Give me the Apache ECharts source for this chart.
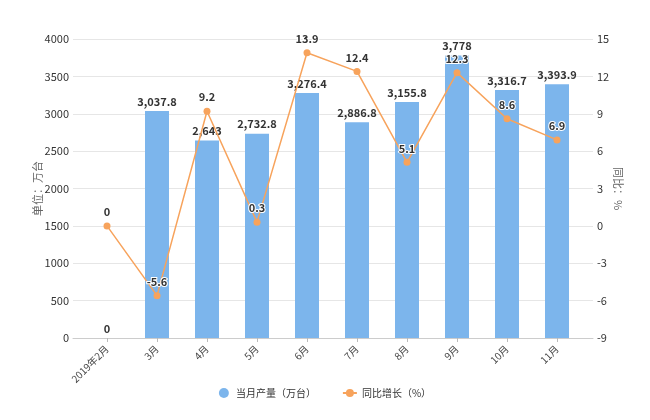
<!DOCTYPE html>
<html>
<head>
<meta charset="utf-8">
<script src="https://cdn.jsdelivr.net/npm/echarts@6/dist/echarts.min.js"></script>
<style>
html,body{margin:0;padding:0;background:#fff;}
#chart{width:650px;height:420px;}
</style>
</head>
<body>
<div id="chart"></div>
<script>
var categories = ['2019年2月','3月','4月','5月','6月','7月','8月','9月','10月','11月'];
var production = [0, 3037.8, 2643, 2732.8, 3276.4, 2886.8, 3155.8, 3778, 3316.7, 3393.9];
var growth = [0, -5.6, 9.2, 0.3, 13.9, 12.4, 5.1, 12.3, 8.6, 6.9];
var leftTicks = {min: 0, max: 4000, interval: 500};
var rightTicks = {min: -9, max: 15, interval: 3};

function fmt(v){
  var s = String(v);
  var parts = s.split('.');
  parts[0] = parts[0].replace(/\B(?=(\d{3})+(?!\d))/g, ',');
  return parts.join('.');
}

var font = '"Noto Sans CJK SC", "Noto Sans", sans-serif';
var chart = echarts.init(document.getElementById('chart'));
chart.setOption({
  animation: false,
  textStyle: {fontFamily: font},
  grid: [
    {left: 82, right: 68, top: 39, bottom: 82},
    {left: 73, right: 57, top: 39, bottom: 82}
  ],
  legend: {
    bottom: 17,
    left: 'center',
    itemGap: 26,
    itemWidth: 14,
    itemHeight: 10,
    textStyle: {fontSize: 10, color: '#333', fontFamily: font},
    data: [
      {name: '当月产量（万台）', icon: 'circle'},
      {name: '同比增长（%）'}
    ]
  },
  xAxis: [
    {
      type: 'category', gridIndex: 0, data: categories,
      axisLine: {show: false},
      axisTick: {show: true, alignWithLabel: true, length: 4, lineStyle: {color: '#bbb'}},
      axisLabel: {rotate: 45, fontSize: 10, color: '#444', margin: 9, interval: 0}
    },
    {
      type: 'value', gridIndex: 1, min: 0, max: 1,
      axisLine: {show: true, lineStyle: {color: '#ccc'}},
      axisTick: {show: false}, axisLabel: {show: false}, splitLine: {show: false}
    }
  ],
  yAxis: [
    {type: 'value', gridIndex: 0, min: leftTicks.min, max: leftTicks.max, interval: leftTicks.interval, show: false},
    {type: 'value', gridIndex: 0, min: rightTicks.min, max: rightTicks.max, interval: rightTicks.interval, show: false},
    {
      type: 'value', gridIndex: 1, position: 'left',
      min: leftTicks.min, max: leftTicks.max, interval: leftTicks.interval,
      name: '单位：万台', nameLocation: 'middle', nameGap: 30, nameRotate: 90,
      nameMoveOverlap: false,
      nameTextStyle: {fontSize: 11, color: '#666'},
      axisLine: {show: false}, axisTick: {show: false},
      axisLabel: {fontSize: 11, color: '#333', margin: 4, formatter: function(v){ return String(v); }},
      splitLine: {lineStyle: {color: '#e6e6e6'}}
    },
    {
      type: 'value', gridIndex: 1, position: 'right',
      min: rightTicks.min, max: rightTicks.max, interval: rightTicks.interval,
      name: '同比：%', nameLocation: 'middle', nameGap: 20, nameRotate: -90,
      nameMoveOverlap: false,
      nameTextStyle: {fontSize: 11, color: '#666'},
      axisLine: {show: false}, axisTick: {show: false},
      axisLabel: {fontSize: 11, color: '#333', margin: 4},
      splitLine: {show: false}
    }
  ],
  series: [
    {
      name: '当月产量（万台）', type: 'bar', xAxisIndex: 0, yAxisIndex: 0,
      data: production, barWidth: 24,
      itemStyle: {color: '#7cb5ec'},
      label: {
        show: true, position: 'top', distance: 4,
        fontSize: 11, fontWeight: 'bold', color: '#333',
        formatter: function(p){ return fmt(p.value); }
      }
    },
    {
      name: '同比增长（%）', type: 'line', xAxisIndex: 0, yAxisIndex: 1,
      data: growth, symbol: 'circle', symbolSize: 7,
      itemStyle: {color: '#f7a35c'},
      lineStyle: {color: '#f7a35c', width: 1.5},
      z: 3,
      label: {
        show: true, position: 'top', distance: 5,
        fontSize: 11, fontWeight: 'bold', color: '#333',
        textBorderColor: '#fff', textBorderWidth: 2
      }
    }
  ]
});
</script>
</body>
</html>
